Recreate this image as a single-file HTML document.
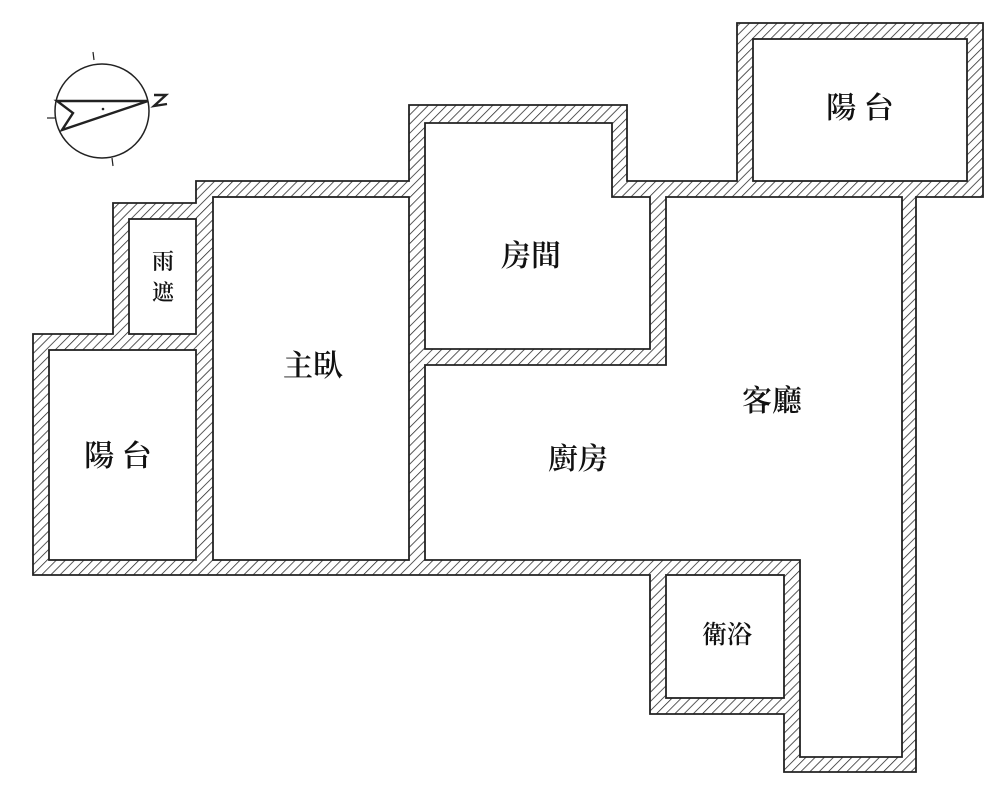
<!DOCTYPE html>
<html><head><meta charset="utf-8"><style>
html,body{margin:0;padding:0;background:#fff;}
svg{display:block;}
text{font-family:"Liberation Serif","Noto Serif CJK SC","Noto Sans CJK TC",serif;fill:#111;font-weight:600;}
</style></head><body>
<svg width="1000" height="791" viewBox="0 0 1000 791" xmlns="http://www.w3.org/2000/svg">
<defs>
<pattern id="h" width="6.5" height="6.5" patternUnits="userSpaceOnUse" patternTransform="rotate(45)">
<rect width="6.5" height="6.5" fill="#fff"/>
<line x1="0" y1="0" x2="0" y2="6.5" stroke="#222" stroke-width="1.5"/>
</pattern>
</defs>
<path d="M33,334 L113,334 L113,203 L196,203 L196,181 L409,181 L409,105 L627,105 L627,181 L737,181 L737,23 L983,23 L983,197 L916,197 L916,772 L784,772 L784,714 L650,714 L650,575 L33,575 Z" fill="url(#h)" stroke="#222" stroke-width="1.8"/>
<g fill="#fff" stroke="#222" stroke-width="1.8">
<rect x="49" y="350" width="147" height="210"/>
<rect x="129" y="219" width="67" height="115"/>
<rect x="213" y="197" width="196" height="363"/>
<path d="M425,123 L612,123 L612,197 L650,197 L650,349 L425,349 Z"/>
<path d="M425,365 L666,365 L666,197 L902,197 L902,757 L800,757 L800,560 L425,560 Z"/>
<rect x="666" y="575" width="118" height="123"/>
<rect x="753" y="39" width="214" height="142"/>
</g>
<g stroke="#222" fill="none">
<circle cx="102" cy="111" r="47" stroke-width="1.5"/>
<line x1="93" y1="52" x2="94" y2="60" stroke-width="1.2"/>
<line x1="47" y1="118" x2="56" y2="118" stroke-width="1.2"/>
<line x1="112" y1="158" x2="113" y2="166" stroke-width="1.2"/>
<path d="M57,101 L148,101 L62,130 L73,113 Z" stroke-width="2.4"/>
<path d="M154,95 L166,95 L154,106 L167,104" stroke-width="2.4"/>
</g>
<circle cx="103" cy="109" r="1.3" fill="#222"/>
<g font-size="30" text-anchor="middle">
<text x="860" y="118">陽 台</text>
<text x="531" y="266">房間</text>
<text x="313" y="376">主臥</text>
<text x="118" y="466">陽 台</text>
<text x="772" y="411">客廳</text>
<text x="578" y="469">廚房</text>
</g>
<g font-size="22" text-anchor="middle">
<text x="163" y="269">雨</text>
<text x="163" y="300">遮</text>
</g>
<text x="727" y="643" font-size="25" text-anchor="middle">衛浴</text>
</svg>
</body></html>
